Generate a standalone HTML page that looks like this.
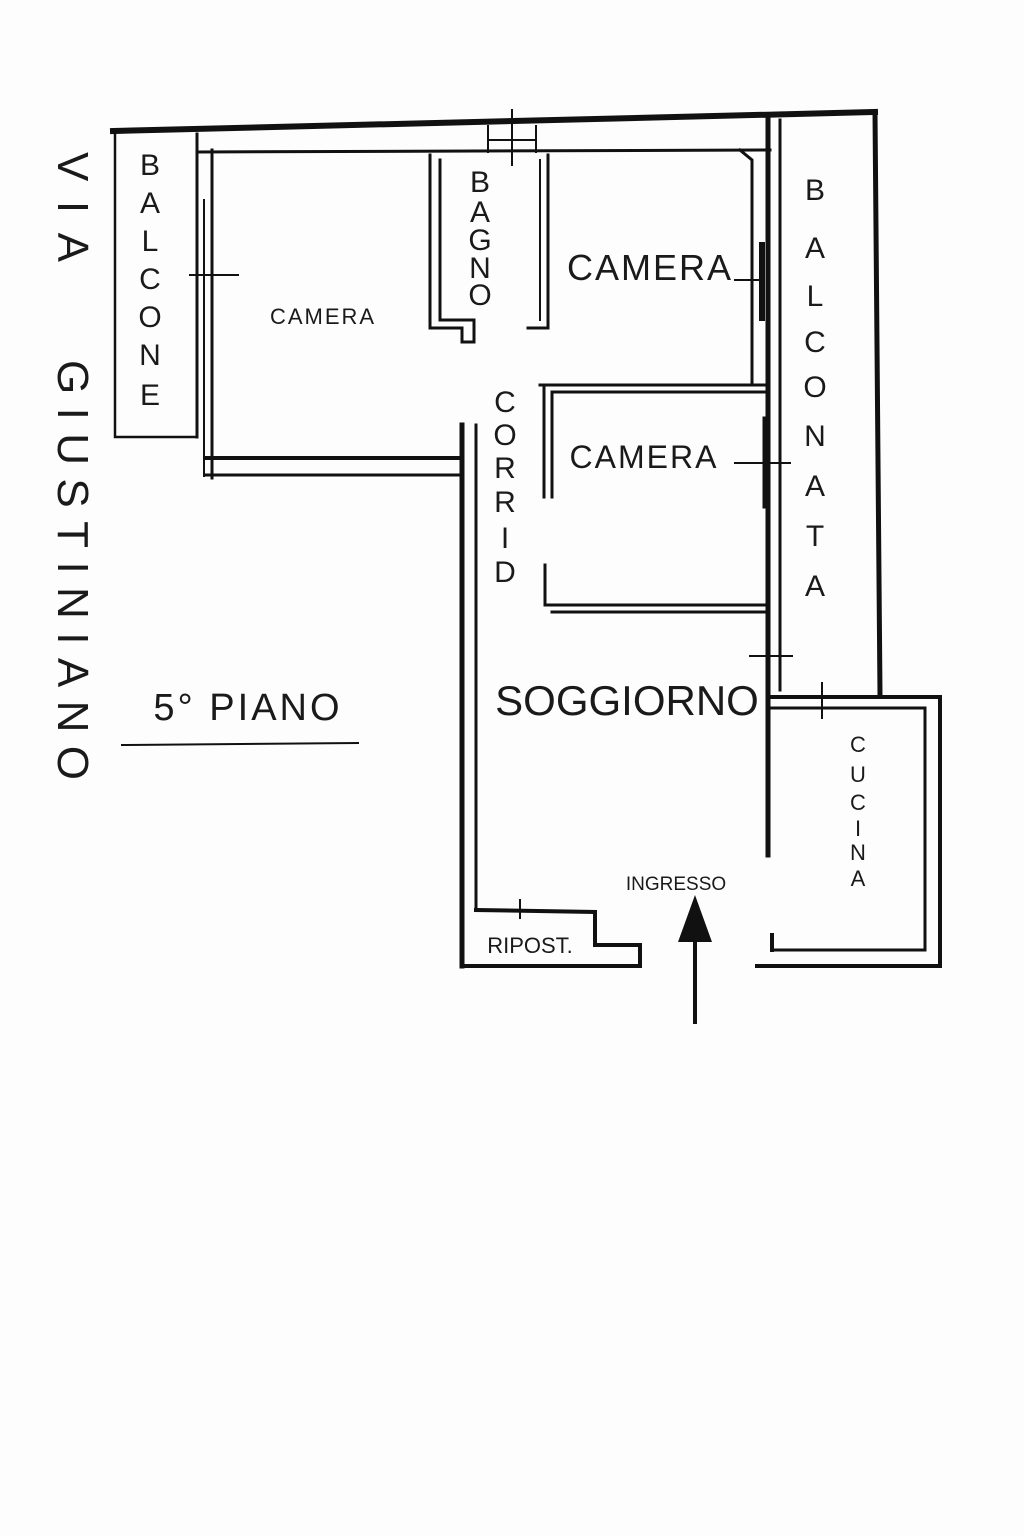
<!DOCTYPE html>
<html><head><meta charset="utf-8"><style>
html,body{margin:0;padding:0;background:#fdfdfd}
svg{display:block}
text{font-family:"Liberation Sans",sans-serif;fill:#1a1a1a}
</style></head><body>
<svg width="1024" height="1536" viewBox="0 0 1024 1536" xmlns="http://www.w3.org/2000/svg">
<g stroke="#111" fill="none" stroke-linecap="square">
<path d="M113 131 L875 112" stroke-width="6"/>
<path d="M197 152 L770 150" stroke-width="3"/>
<path d="M115 131 L115 437 L197 437" stroke-width="2.5"/>
<path d="M197 134 L197 437" stroke-width="3"/>
<path d="M212 150 L212 478" stroke-width="3"/>
<path d="M204 200 L204 476" stroke-width="2"/>
<path d="M190 275 L238 275" stroke-width="2"/>
<path d="M205 458 L462 458" stroke-width="4"/>
<path d="M205 475 L462 475" stroke-width="3"/>
<path d="M462 425 L462 966" stroke-width="5"/>
<path d="M476 425 L476 910" stroke-width="3"/>
<path d="M476 910 L595 912 L595 945 L640 945 L640 966 L462 966" stroke-width="4"/>
<path d="M520 900 L520 918" stroke-width="2"/>
<path d="M757 966 L940 966 L940 697 L770 697" stroke-width="4"/>
<path d="M775 950 L925 950 L925 708 L770 708" stroke-width="3"/>
<path d="M772 935 L772 950" stroke-width="4"/>
<path d="M768 120 L768 855" stroke-width="5"/>
<path d="M780 120 L780 690" stroke-width="3"/>
<path d="M875 112 L880 695" stroke-width="5"/>
<path d="M822 683 L822 718" stroke-width="2"/>
<path d="M750 656 L792 656" stroke-width="2"/>
<path d="M762 245 L762 318" stroke-width="6"/>
<path d="M766 420 L766 505" stroke-width="7"/>
<path d="M430 155 L430 328 L462 328 L462 342 L474 342 L474 320 L440 320 L440 160" stroke-width="3"/>
<path d="M548 155 L548 328 L528 328" stroke-width="3"/>
<path d="M540 160 L540 320" stroke-width="2"/>
<path d="M740 150 L752 160 L752 385" stroke-width="3"/>
<path d="M488 126 L488 152 M536 126 L536 152 M512 110 L512 165 M488 140 L536 140" stroke-width="2"/>
<path d="M540 385 L765 385 M552 392 L765 392" stroke-width="3"/>
<path d="M544 385 L544 497 M552 392 L552 497" stroke-width="3"/>
<path d="M545 565 L545 605 L765 605 M552 612 L765 612" stroke-width="3"/>
<path d="M735 280 L760 280 M735 463 L790 463" stroke-width="2"/>
<path d="M122 745 L358 743" stroke-width="2"/>
<path d="M695 935 L695 1022" stroke-width="4"/>
</g>
<polygon points="695,895 678,942 712,942" fill="#111"/>
<text transform="translate(58,152) rotate(90)" font-size="44" textLength="110" lengthAdjust="spacing">VIA</text>
<text transform="translate(58,360) rotate(90)" font-size="44" textLength="420" lengthAdjust="spacing">GIUSTINIANO</text>
<g font-size="30" text-anchor="middle">
<text x="150" y="175">B</text><text x="150" y="213">A</text><text x="150" y="251">L</text><text x="150" y="289">C</text><text x="150" y="327">O</text><text x="150" y="365">N</text><text x="150" y="405">E</text>
<text x="480" y="192">B</text><text x="480" y="222">A</text><text x="480" y="250">G</text><text x="480" y="278">N</text><text x="480" y="305">O</text>
<text x="505" y="412">C</text><text x="505" y="445">O</text><text x="505" y="478">R</text><text x="505" y="512">R</text><text x="505" y="548">I</text><text x="505" y="582">D</text>
<text x="815" y="200">B</text><text x="815" y="258">A</text><text x="815" y="306">L</text><text x="815" y="352">C</text><text x="815" y="397">O</text><text x="815" y="446">N</text><text x="815" y="496">A</text><text x="815" y="546">T</text><text x="815" y="596">A</text>
</g>
<g font-size="22" text-anchor="middle">
<text x="858" y="752">C</text><text x="858" y="782">U</text><text x="858" y="810">C</text><text x="858" y="836">I</text><text x="858" y="860">N</text><text x="858" y="886">A</text>
</g>
<text x="323" y="324" font-size="22" text-anchor="middle" letter-spacing="2">CAMERA</text>
<text x="650" y="280" font-size="36" text-anchor="middle" letter-spacing="2">CAMERA</text>
<text x="644" y="468" font-size="32" text-anchor="middle" letter-spacing="2">CAMERA</text>
<text x="627" y="715" font-size="42" text-anchor="middle">SOGGIORNO</text>
<text x="248" y="720" font-size="38" text-anchor="middle" letter-spacing="3">5° PIANO</text>
<text x="676" y="890" font-size="19" text-anchor="middle">INGRESSO</text>
<text x="530" y="953" font-size="22" text-anchor="middle">RIPOST.</text>
</svg>
</body></html>
